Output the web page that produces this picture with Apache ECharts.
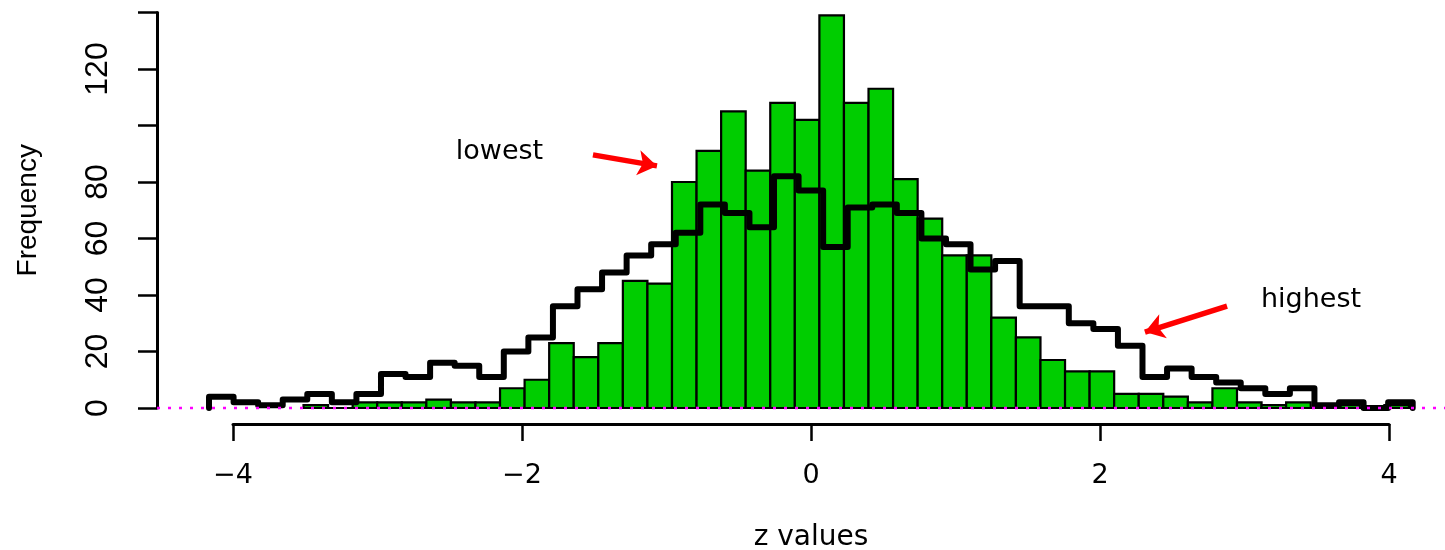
<!DOCTYPE html>
<html><head><meta charset="utf-8">
<script src="https://cdn.jsdelivr.net/npm/echarts@6/dist/echarts.min.js"></script>
<style>html,body{margin:0;padding:0;background:#fff}#c{width:1445px;height:550px}</style>
</head><body><div id="c"></div>
<script>
// Black step histogram (outline): bin breaks and counts
const blackBreaks = [-4.166, -3.996, -3.826, -3.656, -3.486, -3.316, -3.146, -2.976, -2.806, -2.636,
  -2.466, -2.296, -2.126, -1.956, -1.786, -1.616, -1.446, -1.276, -1.106, -0.936,
  -0.766, -0.596, -0.426, -0.256, -0.086, 0.084, 0.254, 0.424, 0.594, 0.764,
  0.934, 1.104, 1.274, 1.444, 1.614, 1.784, 1.954, 2.124, 2.294, 2.464,
  2.634, 2.804, 2.974, 3.144, 3.314, 3.484, 3.654, 3.824, 3.994, 4.164];
const blackCounts = [4, 2, 1, 3, 5, 2, 5, 12, 11, 16,
  15, 11, 20, 25, 36, 42, 48, 54, 58, 62,
  72, 69, 64, 82, 77, 57, 71, 72, 69, 60,
  58, 49, 52, 36, 36, 30, 28, 22, 11, 14,
  11, 9, 7, 5, 7, 1, 2, 0, 2];
// Green filled histogram: bin breaks and counts
const greenBreaks = [-3.512, -3.342, -3.172, -3.002, -2.832, -2.662, -2.492, -2.322, -2.152, -1.982,
  -1.812, -1.642, -1.472, -1.302, -1.132, -0.962, -0.792, -0.622, -0.452, -0.282,
  -0.112, 0.058, 0.228, 0.398, 0.568, 0.738, 0.908, 1.078, 1.248, 1.418,
  1.588, 1.758, 1.928, 2.098, 2.268, 2.438, 2.608, 2.778, 2.948, 3.118,
  3.288, 3.458, 3.628, 3.798, 3.968, 4.138];
const greenCounts = [1, 0, 2, 2, 2, 3, 2, 2, 7, 10,
  23, 18, 23, 45, 44, 80, 91, 105, 84, 108,
  102, 139, 108, 113, 81, 67, 54, 54, 32, 25,
  17, 13, 13, 5, 5, 4, 2, 7, 2, 1,
  2, 0, 1, 0, 1];
// Axis ticks
const xTickValues = [-4, -2, 0, 2, 4];
const xTickLabels = ['\u22124', '\u22122', '0', '2', '4'];
const yTickValues = [0, 20, 40, 60, 80, 100, 120, 140];
const yTickLabels = ['0', '20', '40', '60', '80', '', '120', ''];
// Annotations (data coordinates)
const noteTexts = ['lowest', 'highest'];
const noteX = [-2.156, 3.46];
const noteY = [90.6, 38.2];
const arrowFrom = [[-1.509, 89.6], [2.879, 36.1]];
const arrowTo = [[-1.066, 85.7], [2.311, 26.9]];
const hLineY = 0;

const X_MIN = -4.526, X_MAX = 4.3875, Y_MIN = -5.66, Y_MAX = 144.42;

const greenData = greenCounts.map((c, i) => [greenBreaks[i], greenBreaks[i + 1], c]);
const nB = blackBreaks.length;
const stepData = [[blackBreaks[0], 0]];
blackCounts.forEach((c, i) => stepData.push([blackBreaks[i], c]));
stepData.push([blackBreaks[nB - 1], blackCounts[blackCounts.length - 1]]);
stepData.push([blackBreaks[nB - 1], 0]);

const chart = echarts.init(document.getElementById('c'), null, {renderer: 'canvas'});
const hidden = {show: false};
const gridBase = {containLabel: false, outerBoundsMode: 'none'};
chart.setOption({
  animation: false,
  backgroundColor: '#ffffff',
  grid: [
    Object.assign({left: 157, right: 0, top: 0, bottom: 126}, gridBase),
    Object.assign({left: 233, right: 56, top: 0, bottom: 126}, gridBase),
    Object.assign({left: 157, right: 0, top: 12.5, bottom: 142}, gridBase)
  ],
  xAxis: [
    {type: 'value', gridIndex: 0, min: X_MIN, max: X_MAX, axisLine: hidden, axisTick: hidden, axisLabel: hidden, splitLine: hidden},
    {type: 'value', gridIndex: 1, min: -4, max: 4, interval: 2, position: 'bottom',
      axisLine: {show: true, onZero: false, lineStyle: {color: '#000', width: 3}},
      axisTick: {show: true, length: 17, lineStyle: {color: '#000', width: 2.5}},
      axisLabel: {show: true, margin: 38, color: '#000', fontSize: 27, fontFamily: 'DejaVu Sans',
        showMinLabel: true, showMaxLabel: true,
        formatter: v => { const i = xTickValues.indexOf(v); return i >= 0 ? xTickLabels[i] : ''; }},
      splitLine: hidden,
      name: 'z values', nameLocation: 'middle', nameGap: 100,
      nameTextStyle: {fontSize: 28, fontFamily: 'DejaVu Sans', color: '#000'}},
    {type: 'value', gridIndex: 2, min: 0, max: 1, show: false}
  ],
  yAxis: [
    {type: 'value', gridIndex: 0, min: Y_MIN, max: Y_MAX, axisLine: hidden, axisTick: hidden, axisLabel: hidden, splitLine: hidden},
    {type: 'value', gridIndex: 1, min: 0, max: 1, show: false},
    {type: 'value', gridIndex: 2, min: 0, max: 140, interval: 20, position: 'left',
      axisLine: {show: true, onZero: false, lineStyle: {color: '#000', width: 3}},
      axisTick: {show: true, length: 19, lineStyle: {color: '#000', width: 2.5}},
      axisLabel: {show: true, rotate: 90, margin: 43, color: '#000', fontSize: 32, fontFamily: 'Liberation Sans',
        showMinLabel: true, showMaxLabel: true,
        formatter: v => { const i = yTickValues.indexOf(v); return i >= 0 ? yTickLabels[i] : ''; }},
      splitLine: hidden,
      name: 'Frequency', nameLocation: 'middle', nameRotate: 90, nameGap: 115,
      nameTextStyle: {fontSize: 28, fontFamily: 'Liberation Sans', color: '#000'}}
  ],
  series: [
    {
      type: 'custom', name: 'green', xAxisIndex: 0, yAxisIndex: 0, z: 2,
      data: greenData, encode: {x: [0, 1], y: 2},
      renderItem: (params, api) => {
        const p0 = api.coord([api.value(0), 0]);
        const p1 = api.coord([api.value(1), api.value(2)]);
        return {type: 'rect',
          shape: {x: p0[0], y: p1[1], width: p1[0] - p0[0], height: p0[1] - p1[1]},
          style: {fill: '#00CD00', stroke: '#000', lineWidth: 2.2}};
      }
    },
    {
      type: 'line', name: 'black', xAxisIndex: 0, yAxisIndex: 0, z: 3,
      data: stepData, step: 'end', symbol: 'none', silent: true,
      lineStyle: {color: '#000', width: 6, cap: 'round', join: 'round'}
    },
    {
      type: 'line', name: 'zero', xAxisIndex: 0, yAxisIndex: 0, z: 4,
      data: [[X_MIN, hLineY], [X_MAX, hLineY]], symbol: 'none', silent: true,
      lineStyle: {color: '#ff00ff', width: 2.5, type: [3, 8]}
    },
    {
      type: 'lines', coordinateSystem: 'cartesian2d', xAxisIndex: 0, yAxisIndex: 0, z: 5,
      symbol: ['none', 'arrow'], symbolSize: 19, silent: true,
      lineStyle: {color: '#ff0000', width: 5.5, opacity: 1, curveness: 0},
      data: arrowFrom.map((f, i) => ({coords: [f, arrowTo[i]]}))
    },
    {
      type: 'scatter', xAxisIndex: 0, yAxisIndex: 0, z: 6, symbolSize: 0, silent: true,
      itemStyle: {opacity: 1},
      data: noteTexts.map((t, i) => ({name: t, value: [noteX[i], noteY[i]]})),
      label: {show: true, position: 'inside', formatter: '{b}', color: '#000', fontSize: 27, fontFamily: 'DejaVu Sans',
        textBorderWidth: 0, textBorderColor: 'transparent', opacity: 1}
    }
  ]
});
</script>
</body></html>
